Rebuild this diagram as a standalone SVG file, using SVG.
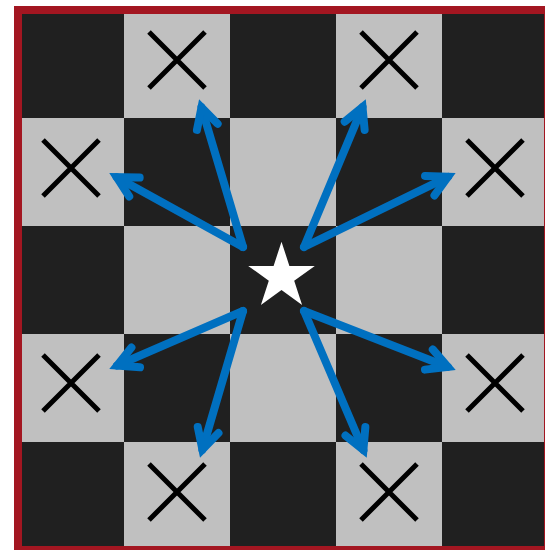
<svg xmlns="http://www.w3.org/2000/svg" width="545" height="550" viewBox="0 0 545 550">
<defs>
<style>
.d{fill:#202020}
.l{fill:#c0c0c0}
.x{stroke:#000;stroke-width:5;stroke-linecap:butt;fill:none}
.a{stroke:#0070c0;stroke-width:8;stroke-linecap:round;fill:none}
</style>
<marker id="ah" markerUnits="userSpaceOnUse" orient="auto" refX="0" refY="0" markerWidth="40" markerHeight="40" viewBox="-30 -20 40 40" overflow="visible">
<path d="M-20.3,-10.8 L0,0 L-20.3,10.8" fill="none" stroke="#0070c0" stroke-width="8" stroke-linecap="round" stroke-linejoin="miter" stroke-miterlimit="10"/>
</marker>
</defs>
<g id="board">
<rect x="18" y="10" width="530" height="540" class="d"/>
<rect x="124" y="10" width="106" height="108" class="l"/>
<rect x="336" y="10" width="106" height="108" class="l"/>
<rect x="18" y="118" width="106" height="108" class="l"/>
<rect x="230" y="118" width="106" height="108" class="l"/>
<rect x="442" y="118" width="106" height="108" class="l"/>
<rect x="124" y="226" width="106" height="108" class="l"/>
<rect x="336" y="226" width="106" height="108" class="l"/>
<rect x="18" y="334" width="106" height="108" class="l"/>
<rect x="230" y="334" width="106" height="108" class="l"/>
<rect x="442" y="334" width="106" height="108" class="l"/>
<rect x="124" y="442" width="106" height="108" class="l"/>
<rect x="336" y="442" width="106" height="108" class="l"/>
<rect x="18" y="10" width="530" height="540" fill="none" stroke="#a31621" stroke-width="8"/>
</g>
<g id="x1"><path class="x" d="M149,32 L205,88 M205,32 L149,88"/></g>
<g id="x2"><path class="x" d="M361,32 L417,88 M417,32 L361,88"/></g>
<g id="x3"><path class="x" d="M43,140 L99,196 M99,140 L43,196"/></g>
<g id="x4"><path class="x" d="M467,140 L523,196 M523,140 L467,196"/></g>
<g id="x5"><path class="x" d="M43,355 L99,411 M99,355 L43,411"/></g>
<g id="x6"><path class="x" d="M467,355 L523,411 M523,355 L467,411"/></g>
<g id="x7"><path class="x" d="M149,464 L205,520 M205,464 L149,520"/></g>
<g id="x8"><path class="x" d="M361,464 L417,520 M417,464 L361,520"/></g>
<g id="star"><polygon fill="#fff" points="281.5,241.7 289.4,265.9 314.8,265.9 294.2,280.8 302.1,305 281.5,290.1 260.9,305 268.8,280.8 248.2,265.9 273.6,265.9"/></g>
<g id="connectors">
<path class="a" marker-end="url(#ah)" d="M243,247 L201.5,107.4"/>
<path class="a" marker-end="url(#ah)" d="M243,247 L116.7,177.2"/>
<path class="a" marker-end="url(#ah)" d="M304,247 L362.5,107.1"/>
<path class="a" marker-end="url(#ah)" d="M304,247 L448,176.8"/>
<path class="a" marker-end="url(#ah)" d="M243,311 L117.1,365.5"/>
<path class="a" marker-end="url(#ah)" d="M243,311 L202.4,449.5"/>
<path class="a" marker-end="url(#ah)" d="M304,311 L363.4,450"/>
<path class="a" marker-end="url(#ah)" d="M304,311 L447.8,366.9"/>
</g>
</svg>
